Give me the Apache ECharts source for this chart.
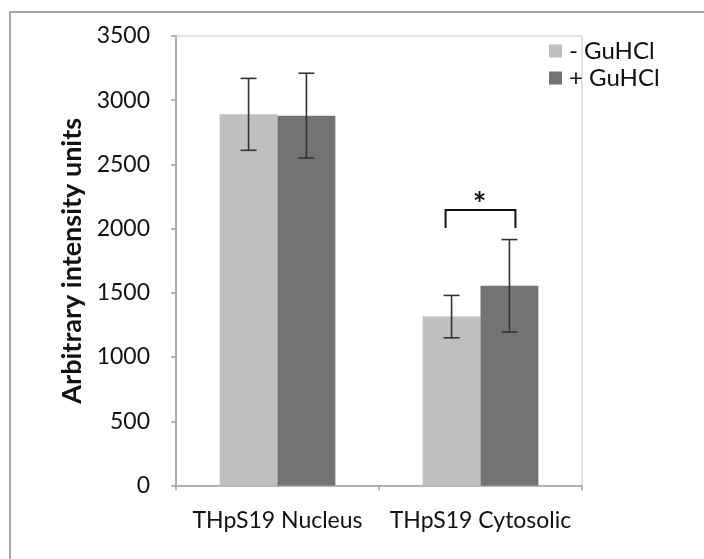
<!DOCTYPE html>
<html>
<head>
<meta charset="utf-8">
<script src="https://cdn.jsdelivr.net/npm/echarts@6/dist/echarts.min.js"></script>
<style>html,body{margin:0;padding:0;background:#fff;}#c{width:704px;height:559px;}</style>
</head>
<body>
<div id="c"></div>
<script>
const categories = ['THpS19 Nucleus', 'THpS19 Cytosolic'];
const seriesNames = ['- GuHCl', '+ GuHCl'];
const minusValues = [2890, 1315];
const minusErrors = [280, 165];
const plusValues = [2880, 1555];
const plusErrors = [330, 360];
const yTicks = [0, 500, 1000, 1500, 2000, 2500, 3000, 3500];
// significance bracket: category index, top value, leg end value, symbol
const bracketCategory = 1;
const bracketTop = 2145;
const bracketLegEnd = 2005;
const bracketSymbol = '*';

const FONT = 'Lato';
const colors = ['#bfbfbf', '#737373'];
const catGap = 0.43;

const chart = echarts.init(document.getElementById('c'), null, {renderer: 'canvas'});

function errorRender(offsetSign, values, errors) {
  return function (params, api) {
    const i = api.value(0);
    const v = values[i], e = errors[i];
    const catW = api.size([1, 0])[0];
    const barW = catW * (1 - catGap) / 2;
    const c = api.coord([i, v]);
    const x = c[0] + offsetSign * barW / 2;
    const top = api.coord([i, v + e])[1];
    const bot = api.coord([i, v - e])[1];
    const hw = 8;
    const style = {stroke: '#333', lineWidth: 1.6};
    return {type: 'group', children: [
      {type: 'line', shape: {x1: x, y1: top, x2: x, y2: bot}, style: style},
      {type: 'line', shape: {x1: x - hw, y1: top, x2: x + hw, y2: top}, style: style},
      {type: 'line', shape: {x1: x - hw, y1: bot, x2: x + hw, y2: bot}, style: style}
    ]};
  };
}

function bracketRender(params, api) {
  const i = api.value(0);
  const catW = api.size([1, 0])[0];
  const barW = catW * (1 - catGap) / 2;
  const cx = api.coord([i, bracketTop])[0];
  const xL = cx - barW / 2 - 6;
  const xR = cx + barW / 2 + 6;
  const yT = api.coord([i, bracketTop])[1];
  const yB = api.coord([i, bracketLegEnd])[1];
  const style = {stroke: '#111', lineWidth: 2, fill: null};
  return {type: 'group', children: [
    {type: 'polyline', shape: {points: [[xL, yB], [xL, yT], [xR, yT], [xR, yB]]}, style: style},
    {type: 'text', style: {text: bracketSymbol, x: cx - 1, y: yT - 4, align: 'center', verticalAlign: 'middle',
      font: 'bold 32px ' + FONT, fill: '#111'}}
  ]};
}

chart.setOption({
  animation: false,
  backgroundColor: '#fff',
  textStyle: {fontFamily: FONT},
  graphic: [{
    type: 'rect', silent: true, z: -10,
    shape: {x: 10, y: 12, width: 720, height: 600},
    style: {fill: null, stroke: '#a6a6a6', lineWidth: 2}
  }],
  legend: {
    orient: 'vertical', left: 544, top: 34,
    itemWidth: 13, itemHeight: 13, itemGap: 3,
    icon: 'rect',
    data: seriesNames,
    textStyle: {fontFamily: FONT, fontSize: 24, color: '#111', padding: [0, 0, 0, 2]}
  },
  grid: {left: 176, right: 122, top: 36, bottom: 73.5, show: true, borderColor: '#c8c8c8', borderWidth: 1, backgroundColor: 'transparent'},
  xAxis: {
    type: 'category', data: categories,
    axisLine: {lineStyle: {color: '#a0a0a0', width: 1.5}},
    axisTick: {show: true, length: 5, lineStyle: {color: '#a0a0a0', width: 1.5}},
    axisLabel: {fontFamily: FONT, fontSize: 23, color: '#111', margin: 24, interval: 0}
  },
  yAxis: {
    type: 'value', min: 0, max: 3500, interval: 500,
    name: 'Arbitrary intensity units', nameLocation: 'middle', nameGap: 90,
    nameTextStyle: {fontFamily: FONT, fontSize: 27, fontWeight: 'bold', color: '#111'},
    axisLine: {show: true, lineStyle: {color: '#a0a0a0', width: 1.5}},
    axisTick: {show: true, length: 5, lineStyle: {color: '#a0a0a0', width: 1.5}},
    splitLine: {show: false},
    axisLabel: {fontFamily: FONT, fontSize: 23, color: '#111', margin: 26,
      formatter: function (v) { return yTicks.indexOf(v) >= 0 ? String(v) : ''; }}
  },
  series: [
    {name: seriesNames[0], type: 'bar', data: minusValues, barGap: 0, barCategoryGap: (catGap * 100) + '%',
     itemStyle: {color: colors[0]}},
    {name: seriesNames[1], type: 'bar', data: plusValues, barGap: 0, barCategoryGap: (catGap * 100) + '%',
     itemStyle: {color: colors[1]}},
    {type: 'custom', renderItem: errorRender(-1, minusValues, minusErrors), data: categories.map((c, i) => [i]), z: 5, silent: true},
    {type: 'custom', renderItem: errorRender(1, plusValues, plusErrors), data: categories.map((c, i) => [i]), z: 5, silent: true},
    {type: 'custom', renderItem: bracketRender, data: [[bracketCategory]], z: 6, silent: true}
  ]
});
</script>
</body>
</html>
